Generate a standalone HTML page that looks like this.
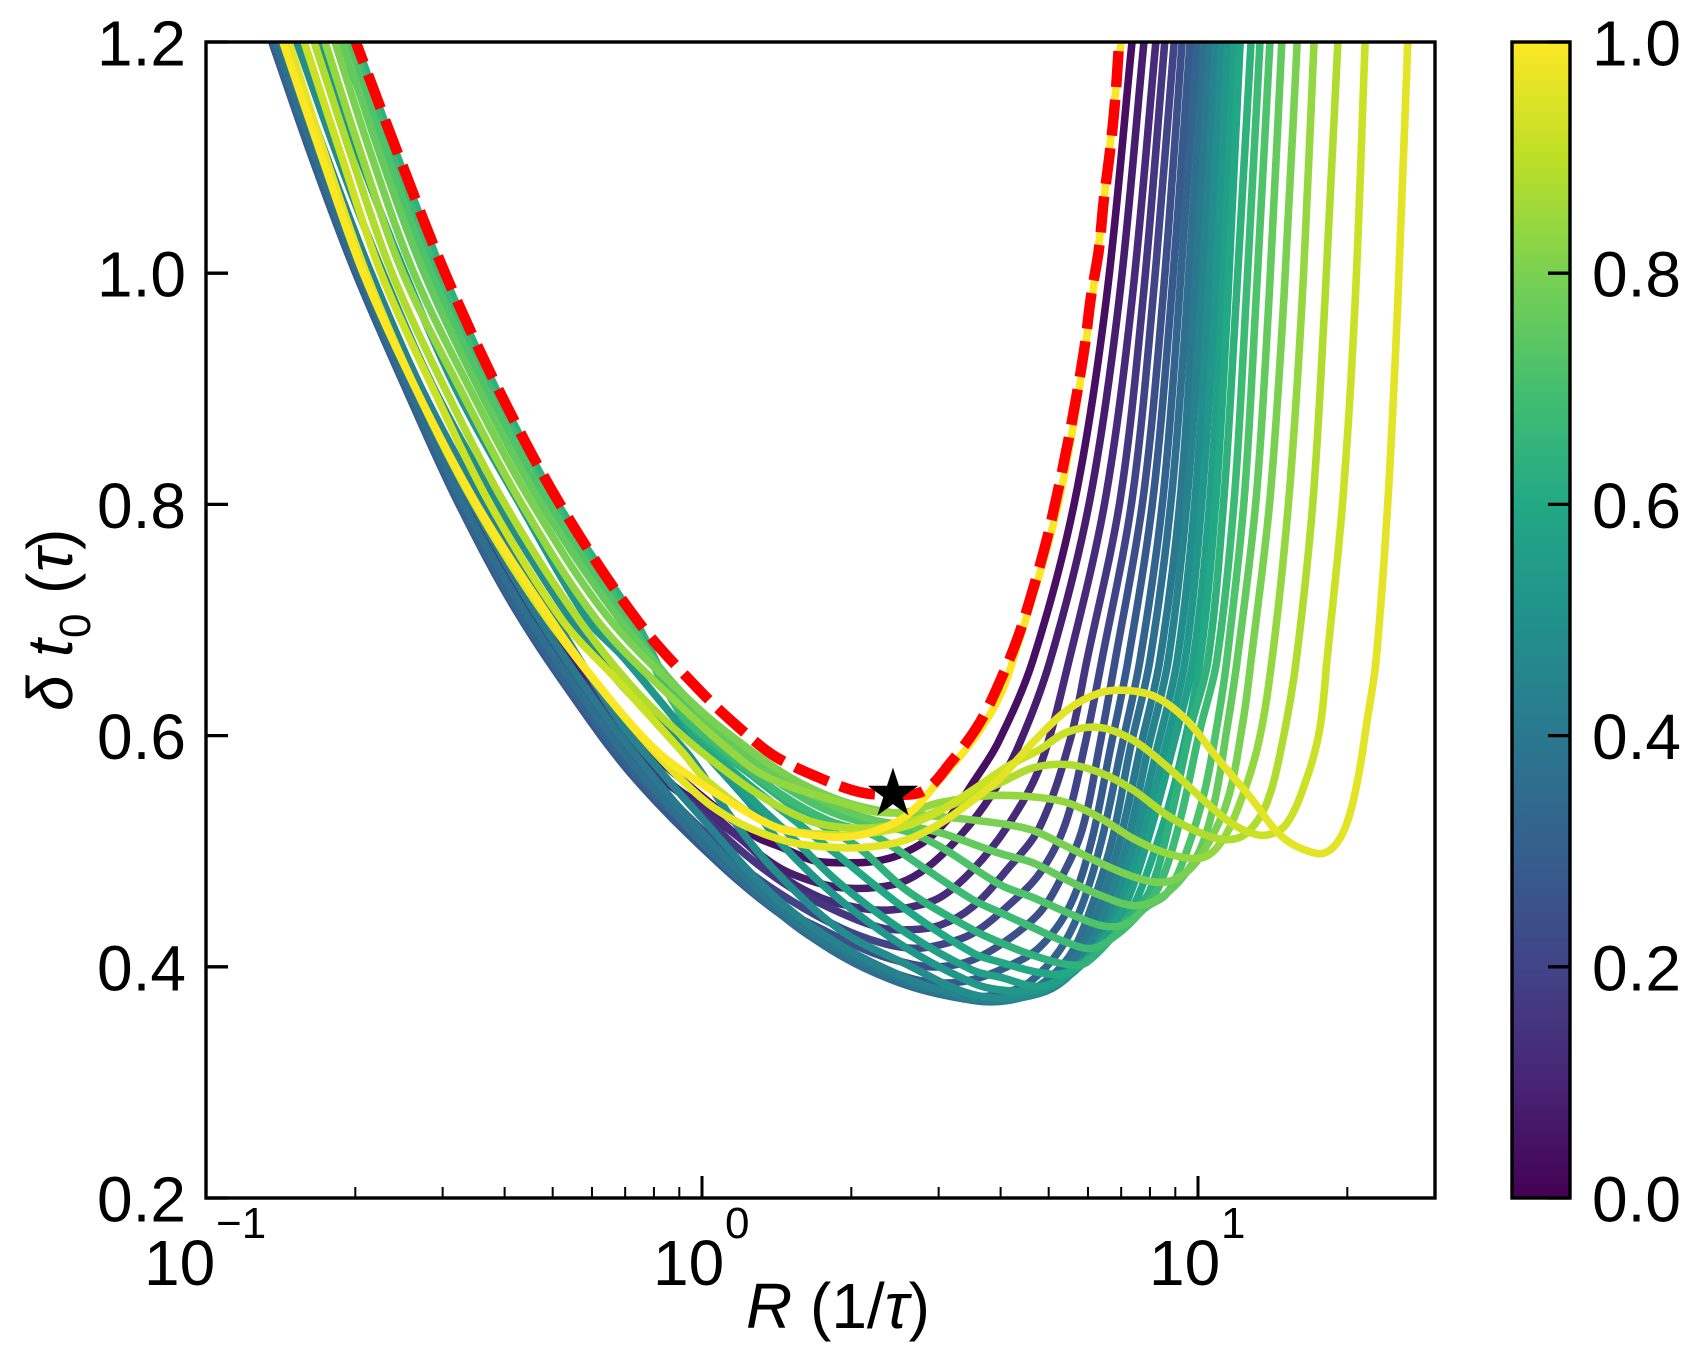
<!DOCTYPE html>
<html lang="en">
<head>
<meta charset="utf-8">
<title>Delta t0 versus R</title>
<style>
html,body{margin:0;padding:0;background:#fff;width:1697px;height:1357px;overflow:hidden}
svg{display:block}
text{font-family:"Liberation Sans",sans-serif;fill:#000}
</style>
</head>
<body>
<svg id="chart" width="1697" height="1357" viewBox="0 0 1697 1357" xmlns="http://www.w3.org/2000/svg">
  <defs>
    <clipPath id="plot-clip"><rect x="206" y="42" width="1229" height="1156"/></clipPath>
    <linearGradient id="viridis-gradient" x1="0" y1="1" x2="0" y2="0"></linearGradient>
  </defs>
  <rect x="0" y="0" width="1697" height="1357" fill="#fff"/>
  <g id="curves" clip-path="url(#plot-clip)"></g>
  <g id="overlay" clip-path="url(#plot-clip)"></g>
  <rect x="206" y="42" width="1229" height="1156" fill="none" stroke="#000" stroke-width="3.4"/>
  <g id="x-axis"></g>
  <g id="y-axis"></g>
  <text x="746" y="1328" font-size="64"><tspan font-style="italic">R</tspan> (1/<tspan font-style="italic">τ</tspan>)</text>
  <g transform="translate(72,711) rotate(-90)">
    <text x="0" y="0" font-size="64"><tspan x="0" font-style="italic">δ</tspan><tspan x="54" font-style="italic">t</tspan><tspan x="73" dy="18" font-size="44">0</tspan><tspan x="117" dy="-18">(</tspan><tspan x="139" font-style="italic">τ</tspan><tspan x="161">)</tspan></text>
  </g>
  <rect id="colorbar-fill" x="1512" y="42" width="58" height="1156" fill="url(#viridis-gradient)" stroke="none"/>
  <g id="colorbar-axis"></g>
  <rect x="1512" y="42" width="58" height="1156" fill="none" stroke="#000" stroke-width="3.4"/>
</svg>
<script>
// Parameter value of each curve (colour scale)
const colorValues = [0.04,0.08,0.12,0.16,0.20,0.24,0.28,0.32,0.36,0.40,0.44,0.48,0.52,0.56,0.60,0.64,0.68,0.72,0.76,0.80,0.84,0.88,0.92,0.96,1.00];

// Left branch: log10(R) where each curve crosses these delta levels
const leftDelta = [1.2,1.1,1.0,0.9,0.8,0.7];
const leftLogR = [
[-.857,-.774,-.688,-.583,-.464,-.317],
[-.861,-.778,-.692,-.587,-.472,-.329],
[-.865,-.782,-.694,-.591,-.478,-.339],
[-.867,-.784,-.696,-.593,-.484,-.347],
[-.867,-.786,-.698,-.595,-.488,-.353],
[-.867,-.786,-.698,-.597,-.490,-.363],
[-.867,-.786,-.698,-.597,-.490,-.363],
[-.865,-.784,-.696,-.595,-.488,-.359],
[-.859,-.778,-.690,-.589,-.480,-.347],
[-.851,-.768,-.681,-.579,-.462,-.327],
[-.839,-.756,-.667,-.565,-.440,-.296],
[-.817,-.734,-.643,-.540,-.411,-.264],
[-.774,-.690,-.599,-.496,-.367,-.230],
[-.728,-.641,-.550,-.446,-.323,-.165],
[-.704,-.615,-.524,-.417,-.292,-.139],
[-.698,-.613,-.522,-.415,-.290,-.135],
[-.704,-.623,-.534,-.425,-.300,-.145],
[-.712,-.633,-.546,-.435,-.308,-.153],
[-.724,-.647,-.560,-.450,-.323,-.165],
[-.740,-.665,-.581,-.468,-.341,-.185],
[-.760,-.685,-.603,-.488,-.363,-.212],
[-.782,-.706,-.625,-.518,-.397,-.248],
[-.802,-.726,-.647,-.542,-.427,-.282],
[-.833,-.758,-.677,-.577,-.458,-.310],
[-.845,-.766,-.683,-.577,-.454,-.304]
];

// Trough region: log10(R) knots of each curve
const troughLogR = [
[-.169,-.091,-.024,.042,.111,.157,.224,.278,.345,.399,.454,.500,.546,.597],
[-.202,-.139,-.058,.010,.097,.163,.238,.292,.359,.413,.466,.526,.581,.635],
[-.240,-.145,-.044,.077,.163,.238,.304,.359,.413,.480,.546,.615,.681],
[-.185,-.099,-.030,.077,.177,.278,.359,.413,.480,.546,.615,.681,.742],
[-.196,-.105,-.030,.077,.177,.278,.359,.425,.480,.546,.615,.681,.732,.772],
[-.206,-.105,-.024,.042,.143,.244,.345,.425,.480,.546,.615,.681,.722,.766,.802],
[-.226,-.159,-.093,-.024,.077,.177,.313,.413,.480,.546,.615,.681,.742,.786,.823],
[-.216,-.149,-.085,.002,.107,.216,.347,.480,.546,.607,.661,.722,.766,.806,.845],
[-.200,-.125,.010,.143,.278,.413,.546,.611,.681,.742,.786,.827,.863],
[-.181,-.105,-.044,.077,.212,.345,.480,.581,.641,.702,.758,.802,.843,.883],
[-.161,-.085,-.024,.143,.278,.413,.480,.581,.681,.732,.772,.817,.859,.899],
[-.165,-.030,.056,.143,.278,.413,.546,.661,.736,.782,.833,.873,.917],
[-.159,-.030,.091,.163,.278,.413,.546,.601,.681,.736,.792,.843,.887,.933],
[-.058,.077,.177,.278,.413,.546,.601,.681,.736,.802,.853,.899,.948],
[-.024,.077,.177,.278,.413,.546,.601,.681,.736,.802,.863,.913,.960],
[-.024,.111,.212,.313,.413,.546,.601,.667,.736,.776,.857,.903,.944,.984],
[-.044,.042,.157,.252,.345,.446,.546,.601,.667,.736,.788,.837,.883,.923,.964,1.004],
[.010,.111,.212,.278,.345,.413,.480,.601,.667,.736,.802,.849,.897,.938,.978,1.014,1.040],
[-.004,.077,.177,.278,.345,.413,.480,.601,.667,.736,.802,.869,.917,.964,1.004,1.034,1.058],
[-.004,.077,.177,.278,.373,.480,.601,.667,.736,.802,.869,.923,.964,1.004,1.058,1.091],
[-.071,.097,.177,.298,.349,.413,.480,.581,.667,.736,.802,.869,.938,1.004,1.038,1.071,1.119],
[-.105,.077,.212,.313,.413,.514,.601,.667,.736,.802,.869,.938,1.004,1.058,1.099,1.139,1.171],
[-.171,-.038,.010,.143,.278,.345,.413,.480,.546,.615,.681,.736,.802,.869,.938,1.004,1.058,1.099,1.139,1.179,1.220,1.246],
[-.125,-.004,.077,.177,.278,.345,.413,.480,.546,.601,.667,.736,.802,.859,.917,.978,1.038,1.105,1.171,1.240,1.272,1.300,1.323,1.341],
[-.220,-.099,-.004,.131,.177,.278,.345,.413,.480,.546,.597]
];

// Trough region: delta t0 knots of each curve
const troughDelta = [
[.620,.581,.556,.533,.512,.504,.492,.490,.491,.497,.510,.530,.559,.594],
[.633,.592,.557,.536,.504,.484,.472,.468,.469,.475,.490,.516,.547,.588],
[.642,.585,.550,.511,.478,.460,.452,.449,.451,.460,.484,.521,.573],
[.620,.576,.544,.501,.469,.447,.434,.432,.436,.452,.484,.521,.596],
[.612,.563,.531,.488,.458,.434,.421,.416,.419,.429,.452,.481,.523,.592],
[.607,.553,.520,.492,.455,.432,.412,.402,.400,.406,.423,.447,.475,.518,.592],
[.613,.575,.543,.513,.473,.440,.408,.391,.386,.389,.400,.417,.453,.510,.588],
[.612,.575,.544,.510,.465,.427,.397,.377,.374,.377,.387,.415,.453,.510,.588],
[.609,.568,.503,.451,.410,.384,.371,.371,.384,.410,.453,.510,.588],
[.609,.568,.537,.482,.432,.400,.377,.370,.373,.384,.410,.453,.510,.588],
[.609,.570,.540,.462,.419,.390,.380,.371,.377,.389,.410,.453,.510,.588],
[.645,.585,.531,.485,.432,.402,.376,.375,.392,.410,.453,.510,.588],
[.668,.602,.544,.505,.458,.416,.386,.380,.380,.391,.415,.453,.510,.588],
[.644,.557,.514,.472,.429,.397,.391,.383,.393,.419,.453,.510,.588],
[.605,.564,.530,.495,.449,.412,.404,.395,.395,.415,.447,.501,.570],
[.611,.562,.530,.504,.466,.432,.421,.410,.402,.404,.441,.466,.527,.605],
[.620,.588,.550,.527,.514,.486,.458,.447,.434,.421,.416,.428,.447,.471,.527,.605],
[.605,.572,.544,.531,.523,.517,.504,.471,.460,.447,.436,.436,.452,.464,.501,.553,.613],
[.620,.588,.559,.537,.527,.522,.516,.498,.490,.475,.462,.453,.458,.475,.501,.544,.605],
[.622,.594,.564,.544,.534,.530,.524,.518,.504,.490,.478,.473,.478,.495,.542,.613],
[.637,.573,.556,.540,.534,.534,.542,.548,.547,.542,.529,.511,.498,.494,.503,.527,.588],
[.626,.560,.527,.520,.525,.542,.559,.572,.575,.568,.553,.531,.516,.510,.516,.542,.596],
[.648,.585,.561,.522,.514,.516,.522,.535,.553,.573,.588,.603,.607,.596,.573,.547,.527,.517,.514,.524,.564,.607],
[.600,.547,.524,.508,.503,.504,.510,.524,.544,.563,.594,.622,.637,.639,.633,.613,.581,.547,.512,.498,.503,.524,.564,.613],
[.650,.590,.559,.524,.517,.512,.517,.531,.562,.596,.631]
];

// Right branch: log10(R) where each curve crosses these delta levels
const rightDelta = [0.665,0.804,0.977,1.2];
const rightLogR = [
[.667,.752,.815,.867],
[.702,.782,.841,.891],
[.740,.813,.867,.915],
[.776,.843,.889,.933],
[.806,.867,.909,.952],
[.833,.889,.929,.968],
[.859,.909,.946,.984],
[.883,.929,.962,.998],
[.903,.946,.978,1.012],
[.923,.964,.992,1.024],
[.940,.978,1.006,1.036],
[.958,.994,1.020,1.048],
[.974,1.008,1.034,1.060],
[.990,1.024,1.048,1.073],
[1.004,1.036,1.060,1.085],
[1.020,1.052,1.077,1.107],
[1.038,1.073,1.097,1.125],
[1.058,1.093,1.117,1.145],
[1.079,1.117,1.143,1.169],
[1.107,1.145,1.173,1.200],
[1.149,1.183,1.210,1.234],
[1.198,1.232,1.256,1.282],
[1.260,1.292,1.317,1.337],
[1.359,1.383,1.403,1.423],
[.627,.720,.786,.845]
];

// Dashed optimal boundary
const boundaryLogR = [-.698,-.610,-.518,-.411,-.286,-.131,0,.093,.151,.242,.319,.379,.446,.500,.561,.611,.641,.669,.696,.718,.738,.756,.772,.784,.800,.810,.823,.833,.841];
const boundaryDelta = [1.2,1.1,1.0,.9,.8,.7,.637,.600,.581,.5625,.551,.549,.552,.576,.612,.657,.690,.729,.771,.8125,.854,.896,.938,.979,1.02,1.063,1.107,1.15,1.2];

// Star marker
const starLogR = [0.385];
const starDelta = [0.5495];

// Axis ticks
const xMajorExponents = [-1,0,1];
const xMajorLabels = ['\u22121','0','1'];
const xMinorValues = [0.2,0.3,0.4,0.5,0.6,0.7,0.8,0.9,2,3,4,5,6,7,8,9,20];
const yTickValues = [0.2,0.4,0.6,0.8,1.0,1.2];
const yTickLabels = ['0.2','0.4','0.6','0.8','1.0','1.2'];
const colorbarTickValues = [0,0.2,0.4,0.6,0.8,1.0];
const colorbarTickLabels = ['0.0','0.2','0.4','0.6','0.8','1.0'];

// Viridis colour map anchors
const viridisAnchors = ['#440154','#482475','#414487','#355f8d','#2a788e','#21918c','#22a884','#44bf70','#7ad151','#bddf26','#fde725'];

const NS = 'http://www.w3.org/2000/svg';
function xScale(logR){ return 206 + (logR + 1) * 496; }
function yScale(delta){ return 1198 - (delta - 0.2) * 1156; }
function cbScale(v){ return 1198 - v * 1156; }
function hexToRgb(h){ return [parseInt(h.substr(1,2),16),parseInt(h.substr(3,2),16),parseInt(h.substr(5,2),16)]; }
function viridis(t){
  const p = Math.max(0,Math.min(1,t)) * (viridisAnchors.length - 1);
  const i = Math.min(Math.floor(p), viridisAnchors.length - 2);
  const f = p - i;
  const a = hexToRgb(viridisAnchors[i]);
  const b = hexToRgb(viridisAnchors[i+1]);
  return 'rgb(' + [0,1,2].map(function(k){ return Math.round(a[k] + (b[k]-a[k]) * f); }).join(',') + ')';
}
function smoothPath(xs, ys){
  const pts = xs.map(function(x,i){ return [xScale(x), yScale(ys[i])]; });
  let d = 'M' + pts[0][0].toFixed(2) + ' ' + pts[0][1].toFixed(2);
  function tangent(i){
    const a = pts[Math.max(0,i-1)];
    const b = pts[Math.min(pts.length-1,i+1)];
    const dx = b[0]-a[0];
    const dy = b[1]-a[1];
    const len = Math.hypot(dx,dy) || 1;
    return [dx/len, dy/len];
  }
  for (let i = 0; i < pts.length - 1; i++) {
    const p = pts[i];
    const q = pts[i+1];
    const s = Math.hypot(q[0]-p[0], q[1]-p[1]) / 3;
    const t0 = tangent(i);
    const t1 = tangent(i+1);
    d += 'C' + (p[0]+t0[0]*s).toFixed(2) + ' ' + (p[1]+t0[1]*s).toFixed(2) + ' ' +
         (q[0]-t1[0]*s).toFixed(2) + ' ' + (q[1]-t1[1]*s).toFixed(2) + ' ' +
         q[0].toFixed(2) + ' ' + q[1].toFixed(2);
  }
  return d;
}
function lineEl(parent, x1, y1, x2, y2, w){
  const el = document.createElementNS(NS,'line');
  el.setAttribute('x1',x1);
  el.setAttribute('y1',y1);
  el.setAttribute('x2',x2);
  el.setAttribute('y2',y2);
  el.setAttribute('stroke','#000');
  el.setAttribute('stroke-width',w);
  parent.appendChild(el);
  return el;
}
function textEl(parent, x, y, size, anchor, str){
  const el = document.createElementNS(NS,'text');
  el.setAttribute('x',x);
  el.setAttribute('y',y);
  el.setAttribute('font-size',size);
  el.setAttribute('text-anchor',anchor);
  el.textContent = str;
  parent.appendChild(el);
  return el;
}

// Curves
const curvesGroup = document.getElementById('curves');
colorValues.forEach(function(c, i){
  const xs = leftLogR[i].concat(troughLogR[i], rightLogR[i]);
  const ys = leftDelta.concat(troughDelta[i], rightDelta);
  const path = document.createElementNS(NS,'path');
  path.setAttribute('d', smoothPath(xs, ys));
  path.setAttribute('fill','none');
  path.setAttribute('stroke', viridis(c));
  path.setAttribute('stroke-width','7.6');
  path.setAttribute('stroke-linejoin','round');
  
  
  curvesGroup.appendChild(path);
});

// Boundary and star
const overlay = document.getElementById('overlay');
const boundary = document.createElementNS(NS,'path');
boundary.setAttribute('d', smoothPath(boundaryLogR, boundaryDelta));
boundary.setAttribute('fill','none');
boundary.setAttribute('stroke','#ff0000');
boundary.setAttribute('stroke-width','10.5');
boundary.setAttribute('stroke-dasharray','36 12.7');
boundary.setAttribute('stroke-dashoffset','14');


overlay.appendChild(boundary);

const star = document.createElementNS(NS,'polygon');
const sx = xScale(starLogR[0]);
const sy = yScale(starDelta[0]);
const starPts = [];
for (let k = 0; k < 10; k++) {
  const r = k % 2 === 0 ? 26.5 : 10.2;
  const a = -Math.PI/2 + k * Math.PI/5;
  starPts.push((sx + r*Math.cos(a)).toFixed(2) + ',' + (sy + r*Math.sin(a)).toFixed(2));
}
star.setAttribute('points', starPts.join(' '));
star.setAttribute('fill','#000');


overlay.appendChild(star);

// X axis
const xAxis = document.getElementById('x-axis');
xMajorExponents.forEach(function(e, i){
  const px = xScale(e);
  const tick = lineEl(xAxis, px, 1198, px, 1176, 3);
  
  
  const base = textEl(xAxis, i === 0 ? px - 62 : px - 49, 1285, 64, 'start', '10');
  
  
  const exp = textEl(xAxis, i === 0 ? px + 10 : px + 23, 1238, 44, 'start', xMajorLabels[i]);
  
  
});
xMinorValues.forEach(function(v){
  const px = xScale(Math.log10(v));
  const tick = lineEl(xAxis, px, 1198, px, 1187, 2);
  
  
});

// Y axis
const yAxis = document.getElementById('y-axis');
yTickValues.forEach(function(v, i){
  const py = yScale(v);
  const tick = lineEl(yAxis, 206, py, 228, py, 3.3);
  
  
  const label = textEl(yAxis, 186, py + 23.5, 64, 'end', yTickLabels[i]);
  
  
});

// Colorbar
const gradient = document.getElementById('viridis-gradient');
viridisAnchors.forEach(function(col, i){
  const stop = document.createElementNS(NS,'stop');
  stop.setAttribute('offset', i / (viridisAnchors.length - 1));
  stop.setAttribute('stop-color', col);
  gradient.appendChild(stop);
});
const cbAxis = document.getElementById('colorbar-axis');
colorbarTickValues.forEach(function(v, i){
  const py = cbScale(v);
  const tick = lineEl(cbAxis, 1548, py, 1570, py, 3.3);
  
  
  const label = textEl(cbAxis, 1592, py + 23.5, 64, 'start', colorbarTickLabels[i]);
  
  
});
</script>
</body>
</html>
